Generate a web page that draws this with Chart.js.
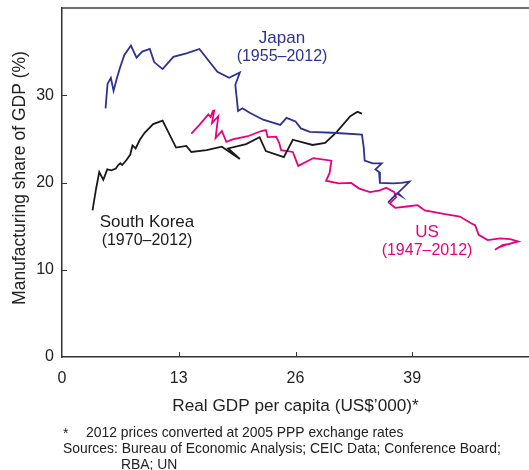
<!DOCTYPE html>
<html>
<head>
<meta charset="utf-8">
<script src="https://cdn.jsdelivr.net/npm/chart.js@4"></script>
<style>
  body { margin: 0; background: #fff; }
  canvas { display: block; }
</style>
</head>
<body>
<canvas id="myChart" width="529" height="470"></canvas>
<script>
// Real GDP per capita (US$'000) vs manufacturing share of GDP (%)
const japanX = [4.85, 5.07, 5.44, 5.74, 6.07, 6.44, 6.93, 7.67, 8.3, 8.93, 9.78, 10.26, 11.2, 12.4, 13.85, 15.3, 17.3, 18.6, 19.8, 19.3, 19.6, 20.1, 20.9, 22.4, 24.3, 25.0, 26.0, 26.6, 27.6, 30.1, 33.4, 33.6, 33.7, 34.6, 35.6, 34.9, 35.3, 35.4, 36.9, 37.8, 38.7, 37.4, 37.7, 37.3, 36.3];
const japanY = [28.5, 31.3, 32.0, 30.5, 31.8, 33.1, 34.6, 35.7, 34.3, 35.0, 35.3, 33.8, 33.0, 34.4, 34.8, 35.3, 32.7, 32.0, 32.6, 31.2, 28.2, 28.5, 28.0, 27.2, 26.6, 27.4, 27.0, 26.2, 25.8, 25.7, 25.5, 24.0, 22.5, 22.2, 22.2, 21.5, 21.2, 19.95, 19.9, 19.95, 20.1, 18.8, 18.5, 18.75, 17.7];

const koreaX = [3.4, 3.78, 4.15, 4.6, 5.04, 5.5, 6.0, 6.26, 6.5, 6.7, 7.2, 7.6, 7.85, 8.2, 8.67, 9.2, 10.15, 11.2, 12.7, 13.85, 14.4, 16.1, 17.8, 19.8, 18.5, 20.5, 22.0, 22.7, 24.7, 25.7, 27.9, 29.3, 30.6, 32.1, 32.9, 33.4];
const koreaY = [16.8, 19.2, 21.2, 20.3, 21.5, 21.4, 21.6, 22.0, 22.2, 22.0, 22.6, 23.2, 24.25, 23.9, 24.9, 25.7, 26.7, 27.1, 24.0, 24.2, 23.5, 23.7, 24.1, 22.7, 23.9, 24.4, 25.2, 23.6, 22.9, 24.9, 24.3, 24.55, 25.8, 27.6, 28.1, 27.9];

const usX = [14.4, 15.25, 15.8, 16.3, 16.55, 16.8, 16.95, 16.7, 17.4, 17.1, 17.8, 18.3, 19.0, 20.7, 22.2, 22.7, 22.9, 23.85, 24.2, 24.4, 25.7, 26.3, 28.0, 30.0, 29.8, 29.4, 30.8, 32.2, 33.1, 34.3, 35.4, 36.1, 37.0, 37.2, 36.5, 37.1, 38.4, 39.6, 40.4, 42.5, 44.3, 45.6, 46.0, 46.4, 47.4, 48.8, 49.9, 50.8, 49.4, 48.7, 48.2, 49.1, 49.9];
const usY = [25.6, 26.55, 27.2, 27.8, 27.5, 28.2, 28.25, 26.8, 27.6, 25.1, 25.9, 24.65, 24.95, 25.3, 25.9, 26.0, 25.2, 25.25, 24.5, 23.7, 23.5, 21.9, 22.8, 22.5, 21.1, 20.2, 19.9, 19.95, 19.3, 18.9, 19.1, 19.4, 18.9, 18.3, 17.6, 17.1, 17.25, 17.4, 16.8, 16.4, 16.1, 15.3, 15.1, 14.0, 13.4, 13.6, 13.5, 13.25, 12.85, 12.6, 12.3, 12.85, 12.95];

const xTicks = [0, 13, 26, 39];
const yTicks = [0, 10, 20, 30];

const NAVY = '#2e3192';
const PINK = '#e6007e';
const BLACK = '#1a1a1a';
const FONT = '"Liberation Sans", Arial, sans-serif';

const toPoints = (xs, ys) => xs.map((x, i) => ({ x: x, y: ys[i] }));

const extras = {
  id: 'extras',
  afterDraw(chart) {
    const { ctx, chartArea: a, scales: { x, y } } = chart;
    ctx.save();
    // top border of the plot box
    ctx.strokeStyle = '#444';
    ctx.lineWidth = 1.5;
    ctx.beginPath();
    ctx.moveTo(a.left, a.top);
    ctx.lineTo(a.right, a.top);
    ctx.stroke();
    // inward tick marks
    ctx.strokeStyle = '#333';
    ctx.lineWidth = 1;
    ctx.beginPath();
    xTicks.slice(1).forEach(v => {
      const px = Math.round(x.getPixelForValue(v)) + 0.5;
      ctx.moveTo(px, a.bottom);
      ctx.lineTo(px, a.bottom - 5);
    });
    yTicks.slice(1).forEach(v => {
      const py = Math.round(y.getPixelForValue(v)) + 0.5;
      ctx.moveTo(a.left, py);
      ctx.lineTo(a.left + 5, py);
    });
    ctx.stroke();

    // y axis title
    ctx.fillStyle = '#222';
    ctx.font = '17.5px ' + FONT;
    ctx.textAlign = 'center';
    ctx.textBaseline = 'middle';
    ctx.save();
    ctx.translate(20, 178);
    ctx.rotate(-Math.PI / 2);
    ctx.fillText('Manufacturing share of GDP (%)', 0, 0);
    ctx.restore();

    // series labels
    const label = (name, years, cx, cy, colour) => {
      ctx.fillStyle = colour;
      ctx.font = '17px ' + FONT;
      ctx.fillText(name, cx, cy);
      ctx.font = '16px ' + FONT;
      ctx.fillText(years, cx, cy + 19);
    };
    label('Japan', '(1955–2012)', 282, 38, NAVY);
    label('South Korea', '(1970–2012)', 147, 222, BLACK);
    label('US', '(1947–2012)', 427, 232, PINK);

    // footnotes
    ctx.fillStyle = '#222';
    ctx.textAlign = 'left';
    ctx.font = '13.9px ' + FONT;
    ctx.fillText('*', 63, 434);
    ctx.fillText('2012 prices converted at 2005 PPP exchange rates', 86, 433);
    ctx.fillText('Sources: Bureau of Economic Analysis; CEIC Data; Conference Board;', 63, 449);
    ctx.fillText('RBA; UN', 121, 465);
    ctx.restore();
  }
};

new Chart(document.getElementById('myChart'), {
  type: 'scatter',
  data: {
    datasets: [
      { label: 'Japan', data: toPoints(japanX, japanY), borderColor: NAVY },
      { label: 'South Korea', data: toPoints(koreaX, koreaY), borderColor: BLACK },
      { label: 'US', data: toPoints(usX, usY), borderColor: PINK }
    ]
  },
  options: {
    responsive: false,
    animation: false,
    devicePixelRatio: 1,
    layout: { padding: { top: 8, left: 0, right: 0, bottom: 0 } },
    elements: {
      line: { borderWidth: 1.8, tension: 0, fill: false },
      point: { radius: 0, hoverRadius: 0 }
    },
    datasets: { scatter: { showLine: true } },
    plugins: {
      legend: { display: false },
      tooltip: { enabled: false }
    },
    scales: {
      x: {
        type: 'linear',
        min: 0,
        max: 52,
        afterBuildTicks: s => { s.ticks = xTicks.map(v => ({ value: v })); },
        afterFit: s => { s.height = 113; s.paddingLeft = 0; s.paddingRight = 0; },
        grid: { display: false, drawTicks: false },
        border: { display: true, color: '#333', width: 1.5 },
        ticks: { color: '#222', font: { family: FONT, size: 16 }, padding: 12 },
        title: {
          display: true,
          text: 'Real GDP per capita (US$’000)*',
          color: '#222',
          font: { family: FONT, size: 17.2 },
          padding: { top: 0, bottom: 53 }
        }
      },
      y: {
        type: 'linear',
        min: 0,
        max: 40,
        afterBuildTicks: s => { s.ticks = yTicks.map(v => ({ value: v })); },
        afterFit: s => { s.width = 62; s.paddingTop = 0; s.paddingBottom = 0; },
        grid: { display: false, drawTicks: false },
        border: { display: true, color: '#333', width: 1.5 },
        ticks: { color: '#222', font: { family: FONT, size: 16 }, padding: 8 }
      }
    }
  },
  plugins: [extras]
});
</script>
</body>
</html>
